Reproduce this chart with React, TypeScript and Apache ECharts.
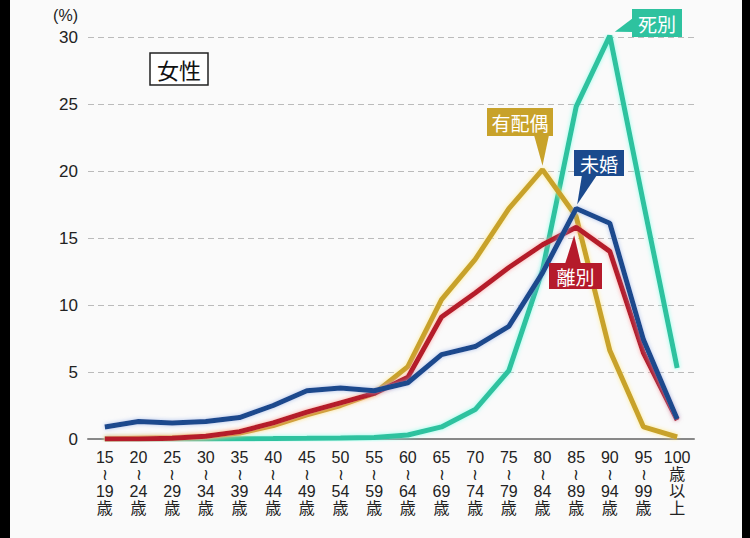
import React, { useEffect, useRef } from "react";
import * as echarts from "echarts";

const categories = [
  "15\n≀\n19\n歳", "20\n≀\n24\n歳", "25\n≀\n29\n歳", "30\n≀\n34\n歳", "35\n≀\n39\n歳",
  "40\n≀\n44\n歳", "45\n≀\n49\n歳", "50\n≀\n54\n歳", "55\n≀\n59\n歳", "60\n≀\n64\n歳",
  "65\n≀\n69\n歳", "70\n≀\n74\n歳", "75\n≀\n79\n歳", "80\n≀\n84\n歳", "85\n≀\n89\n歳",
  "90\n≀\n94\n歳", "95\n≀\n99\n歳", "100\n歳\n以\n上",
];

const yTicks = [0, 5, 10, 15, 20, 25, 30];

const haiguu = [0, 0.05, 0.1, 0.2, 0.45, 1.0, 1.8, 2.5, 3.4, 5.4, 10.4, 13.4, 17.2, 20.1, 16.6, 6.6, 0.9, 0.15];
const rebetsu = [0, 0, 0.05, 0.2, 0.55, 1.2, 2.0, 2.7, 3.4, 4.6, 9.1, 10.9, 12.8, 14.5, 15.8, 14.0, 6.4, 1.4];
const mikon = [0.9, 1.3, 1.2, 1.3, 1.6, 2.5, 3.6, 3.8, 3.6, 4.2, 6.3, 6.9, 8.4, 12.4, 17.2, 16.1, 7.4, 1.5];
const shibetsu = [0, 0, 0, 0, 0.02, 0.03, 0.05, 0.08, 0.12, 0.3, 0.9, 2.2, 5.1, 12.6, 24.8, 30.1, 17.6, 5.3];

const seriesNames = ["死別", "有配偶", "離別", "未婚"];
const colors = ["#2EC29F", "#C8A22A", "#B51A2B", "#1B4A8D"];
const glows = ["rgba(120,255,230,0.8)", "rgba(255,230,120,0.8)", "rgba(255,150,150,0.8)", "rgba(140,170,230,0.7)"];

export default function App() {
  const ref = useRef<HTMLDivElement>(null);

  useEffect(() => {
    document.body.style.margin = "0";
    const chart = echarts.init(ref.current!, undefined, { renderer: "svg" });
    const data = [shibetsu, haiguu, rebetsu, mikon];
    const font = "'Noto Sans CJK JP', 'Noto Sans', sans-serif";

    chart.setOption({
      animation: false,
      backgroundColor: "#fafafa",
      grid: { left: 88, right: 56, top: 37, bottom: 99 },
      xAxis: {
        type: "category",
        data: categories,
        boundaryGap: true,
        axisLine: { lineStyle: { color: "#888", width: 2 } },
        axisTick: { alignWithLabel: true, length: 8, lineStyle: { color: "#888", width: 1.5 } },
        axisLabel: {
          interval: 0,
          color: "#222",
          fontSize: 16,
          lineHeight: 17,
          margin: 10,
          fontFamily: "'Liberation Sans', 'Noto Sans CJK JP', sans-serif",
        },
      },
      yAxis: {
        type: "value",
        min: yTicks[0],
        max: yTicks[yTicks.length - 1],
        interval: 5,
        axisLine: { show: false },
        axisTick: { show: false },
        axisLabel: {
          color: "#222",
          fontSize: 17,
          margin: 10,
          fontFamily: "'Liberation Sans', sans-serif",
        },
        splitLine: { lineStyle: { color: "#bbb", type: [6, 4], width: 1 } },
      },
      series: data.map((d, i) => ({
        name: seriesNames[i],
        type: "line",
        data: d,
        symbol: "none",
        lineStyle: {
          color: colors[i],
          width: 5,
          shadowColor: glows[i],
          shadowBlur: 4,
        },
        z: 2 + i,
      })),
    });

    const px = (idx: number, v: number) => chart.convertToPixel({ gridIndex: 0 }, [idx, v]) as number[];
    const pShi = px(15, shibetsu[15]);
    const pHai = px(13, haiguu[13]);
    const pMi = px(14, mikon[14]);
    const pRi = px(14, rebetsu[14]);

    const box = (x: number, y: number, w: number, h: number, color: string, text: string, tri: number[][]) => ({
      type: "group",
      children: [
        { type: "polygon", shape: { points: tri }, style: { fill: color }, z: 20 },
        { type: "rect", shape: { x, y, width: w, height: h }, style: { fill: color }, z: 20 },
        {
          type: "text",
          x: x + w / 2,
          y: y + h / 2,
          style: { text, fill: "#fff", fontSize: 19, fontFamily: font, align: "center", verticalAlign: "middle" },
          z: 21,
        },
      ],
    });

    chart.setOption({
      graphic: [
        { type: "rect", shape: { x: 0, y: 0, width: 10, height: 538 }, style: { fill: "#000" }, z: 30 },
        { type: "rect", shape: { x: 742, y: 0, width: 8, height: 538 }, style: { fill: "#000" }, z: 30 },
        {
          type: "text",
          x: 78,
          y: 15,
          style: { text: "(%)", fill: "#222", fontSize: 16, fontFamily: "'Liberation Sans', sans-serif", align: "right", verticalAlign: "middle" },
        },
        { type: "rect", shape: { x: 150, y: 53, width: 58, height: 32 }, style: { fill: "#fff", stroke: "#222", lineWidth: 1.5 }, z: 20 },
        {
          type: "text",
          x: 179,
          y: 69,
          style: { text: "女性", fill: "#111", fontSize: 22, fontFamily: font, align: "center", verticalAlign: "middle" },
          z: 21,
        },
        box(632, 9, 50, 28, colors[0], "死別", [[pShi[0] + 5, pShi[1] - 4], [633, 18], [633, 32]]),
        box(487, 108, 66, 28, colors[1], "有配偶", [[534, 135], [549, 135], [pHai[0], pHai[1] - 4]]),
        box(574, 150, 50, 26, colors[3], "未婚", [[582, 175], [597, 175], [pMi[0] + 1, pMi[1] - 4]]),
        box(549, 263, 53, 26, colors[2], "離別", [[565, 264], [581, 264], [pRi[0] - 2, pRi[1] + 8]]),
      ],
    });

    return () => chart.dispose();
  }, []);

  return <div ref={ref} style={{ width: 750, height: 538 }} />;
}
